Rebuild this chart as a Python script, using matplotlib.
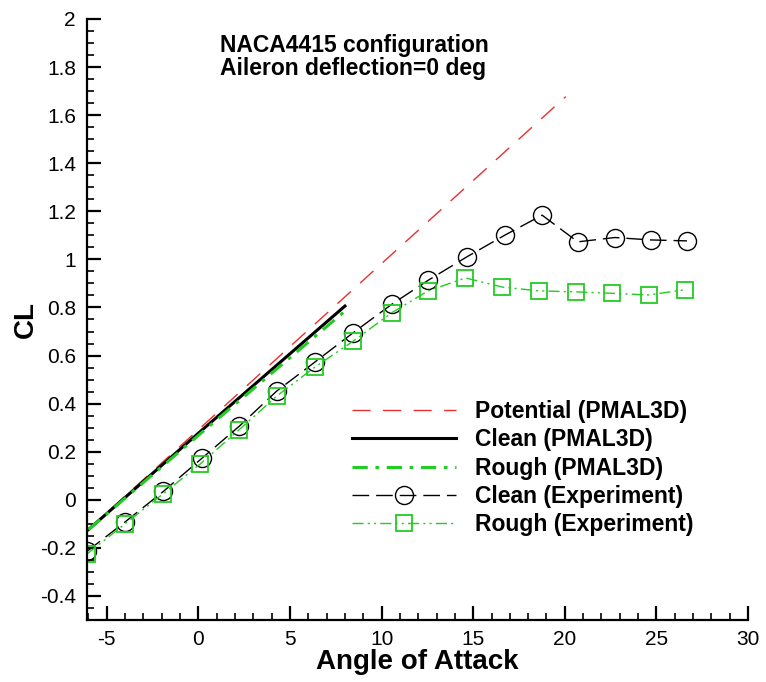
import numpy as np
import matplotlib
matplotlib.use('Agg')
import matplotlib.pyplot as plt
from matplotlib.ticker import MultipleLocator

plt.rcParams['font.family'] = ['Liberation Sans', 'DejaVu Sans']
plt.rcParams['axes.unicode_minus'] = False

# Potential (PMAL3D) - straight line
alpha_pot = [-6.0, 20.05]
cl_pot = [-0.123, 1.677]

# Clean / Rough (PMAL3D)
alpha_pmal = [-6.0, 0.0, 8.0]
cl_clean_pmal = [-0.124, 0.277, 0.806]
cl_rough_pmal = [-0.124, 0.268, 0.785]

# Experiment
alpha_exp = [-6.09, -4.0, -1.91, 0.18, 2.23, 4.27, 6.36, 8.45, 10.55, 12.54,
             14.64, 16.73, 18.76, 20.71, 22.73, 24.68, 26.67]
cl_clean_exp = [-0.215, -0.092, 0.035, 0.172, 0.306, 0.452, 0.573, 0.695, 0.813,
                0.913, 1.010, 1.101, 1.184, 1.073, 1.091, 1.081, 1.077]
alpha_rough = [-6.09, -4.0, -1.91, 0.10, 2.20, 4.27, 6.36, 8.45, 10.55, 12.54,
               14.58, 16.58, 18.6, 20.6, 22.58, 24.57, 26.58]
cl_rough_exp = [-0.226, -0.10, 0.026, 0.149, 0.29, 0.431, 0.552, 0.66, 0.778,
                0.869, 0.923, 0.885, 0.869, 0.865, 0.859, 0.852, 0.874]

green = '#22cc22'

fig = plt.figure(figsize=(7.66, 6.82), dpi=100)
ax = fig.add_axes([87 / 766, 1 - 620 / 682, (748 - 87) / 766, (620 - 19) / 682])

ax.plot(alpha_pot, cl_pot, color='#e83030', lw=1.0, dashes=(13, 9),
        label='Potential (PMAL3D)')
ax.plot(alpha_pmal, cl_clean_pmal, color='black', lw=2.2, label='Clean (PMAL3D)')
ax.plot(alpha_pmal, cl_rough_pmal, color=green, lw=2.2, dashes=(5, 2.5, 1.2, 2.5),
        label='Rough (PMAL3D)')
ax.plot(alpha_exp, cl_clean_exp, color='black', lw=1.0, dashes=(12, 5),
        marker='o', ms=13, mfc='none', mec='black', mew=1.0,
        label='Clean (Experiment)')
ax.plot(alpha_rough, cl_rough_exp, color=green, lw=1.0, dashes=(8, 3, 1.5, 3, 1.5, 3),
        marker='s', ms=11, mfc='none', mec=green, mew=1.3,
        label='Rough (Experiment)')

ax.set_xlim(-6.08, 30)
ax.set_ylim(-0.5, 2)
ax.xaxis.set_major_locator(MultipleLocator(5))
ax.xaxis.set_minor_locator(MultipleLocator(1))
ax.yaxis.set_major_locator(MultipleLocator(0.2))
ax.yaxis.set_minor_locator(MultipleLocator(0.05))
ax.yaxis.set_major_formatter(plt.FuncFormatter(lambda v, p: '%g' % round(v, 2) if abs(v) > 1e-9 else '0'))

for side in ['top', 'right']:
    ax.spines[side].set_visible(False)
for side in ['left', 'bottom']:
    ax.spines[side].set_linewidth(1.6)
ax.tick_params(which='major', direction='in', length=10, width=1.6, labelsize=15)
ax.tick_params(axis='x', which='major', pad=7)
ax.tick_params(axis='y', which='major', pad=8)
ax.tick_params(which='minor', direction='in', length=5, width=1.2)

ax.set_xlabel('Angle of Attack', fontsize=20, fontweight='bold', labelpad=0)
ax.set_ylabel('CL', fontsize=20, fontweight='bold', labelpad=1)

ax.text(220 / 766, 1 - 57 / 682, 'NACA4415 configuration\nAileron deflection=0 deg',
        transform=fig.transFigure, fontsize=16.5, fontweight='bold',
        ha='left', va='center', linespacing=0.95)

leg = ax.legend(loc='upper left', bbox_to_anchor=(352 / 766, 1 - 400 / 682),
                bbox_transform=fig.transFigure, frameon=False, borderpad=0,
                borderaxespad=0, handlelength=4.55, handletextpad=0.8,
                labelspacing=0.23, numpoints=1, prop={'size': 16.5, 'weight': 'bold'})

fig.savefig('out.png', dpi=100)
